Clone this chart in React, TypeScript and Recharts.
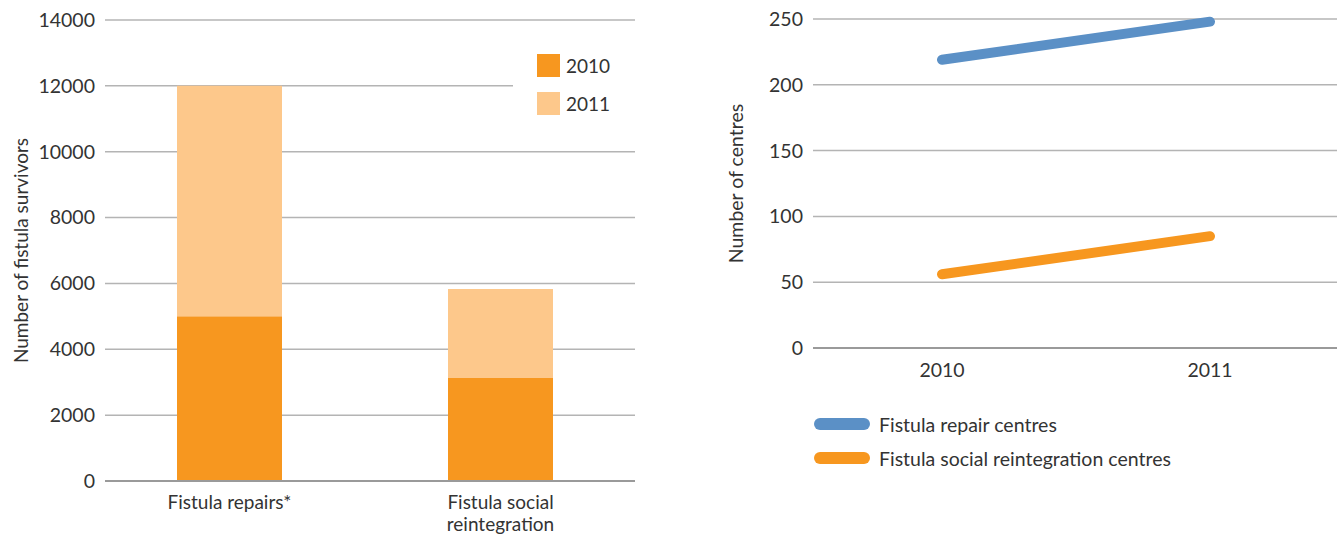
import React from 'react';
import { BarChart, Bar, XAxis, YAxis, CartesianGrid, Legend, LineChart, Line, Text } from 'recharts';

const barCategories = ['Fistula repairs*', 'Fistula social reintegration'];
const survivors2010 = [5000, 3130];
const survivors2011Stacked = [7000, 2700];
const survivorTicks = [0, 2000, 4000, 6000, 8000, 10000, 12000, 14000];

const years = ['2010', '2011'];
const repairCentres = [219, 248];
const reintegrationCentres = [56, 85];
const centreTicks = [0, 50, 100, 150, 200, 250];

const barData = barCategories.map((c, i) => ({ category: c, y2010: survivors2010[i], y2011: survivors2011Stacked[i] }));
const lineData = years.map((y, i) => ({ year: y, repair: repairCentres[i], reintegration: reintegrationCentres[i] }));

const FONT = 'Lato, "Open Sans", sans-serif';
const TEXT = '#333333';
const ORANGE = '#f7971f';
const LIGHT = '#fdc88b';
const BLUE = '#5b90c6';
const GRID = '#b4b4b4';
const AXIS = '#9a9a9a';

const CategoryTick = (props: any) => {
  const { x, y, payload } = props;
  return (
    <Text x={x} y={y} width={145} textAnchor="middle" verticalAnchor="start" lineHeight={22}
      fontFamily={FONT} fontSize={19} fill={TEXT}>
      {payload.value}
    </Text>
  );
};

const rotatedLabel = (text: string, dx: number, size: number) => (props: any) => {
  const vb = props.viewBox || {};
  const cx = vb.x + dx;
  const cy = vb.y + vb.height / 2;
  return (
    <text x={cx} y={cy} textAnchor="middle" dominantBaseline="central" transform={`rotate(-90 ${cx} ${cy})`}
      fontFamily={FONT} fontSize={size} fill={TEXT}>
      {text}
    </text>
  );
};

const BarLegend = (props: any) => {
  const payload = props.payload || [];
  return (
    <div style={{ background: '#fff', paddingLeft: 24, paddingTop: 10, paddingBottom: 10 }}>
      {payload.map((p: any, i: number) => (
        <div key={i} style={{ display: 'flex', alignItems: 'center', height: 23, marginBottom: i === 0 ? 15 : 0 }}>
          <div style={{ width: 23, height: 23, background: p.color }} />
          <span style={{ marginLeft: 6, fontFamily: FONT, fontSize: 19, color: TEXT }}>{p.value}</span>
        </div>
      ))}
    </div>
  );
};

const LineLegend = (props: any) => {
  const payload = props.payload || [];
  return (
    <div>
      {payload.map((p: any, i: number) => (
        <div key={i} style={{ display: 'flex', alignItems: 'center', height: 24, marginBottom: i === 0 ? 10 : 0 }}>
          <svg width={56} height={12} style={{ display: 'block' }}>
            <line x1={6} y1={6} x2={50} y2={6} stroke={p.color} strokeWidth={12} strokeLinecap="round" />
          </svg>
          <span style={{ marginLeft: 9, fontFamily: FONT, fontSize: 19.5, color: TEXT }}>{p.value}</span>
        </div>
      ))}
    </div>
  );
};

export default function App() {
  return (
    <div style={{ position: 'absolute', left: 0, top: 0, width: 1337, height: 535, background: '#fff' }}>
      <div style={{ position: 'absolute', left: 0, top: 0 }}>
        <BarChart width={640} height={535} data={barData} margin={{ top: 20, right: 5, left: 0, bottom: 0 }} barSize={105}>
          <CartesianGrid vertical={false} stroke={GRID} strokeWidth={1.5} />
          <XAxis dataKey="category" tickLine={false} axisLine={{ stroke: AXIS, strokeWidth: 2 }} height={54}
            tick={<CategoryTick />} tickMargin={9} interval={0} padding={{ left: -11, right: -1 }} />
          <YAxis width={105} domain={[0, 14000]} ticks={survivorTicks} interval={0} tickLine={false} axisLine={false}
            tick={{ fill: TEXT, fontSize: 19.5, fontFamily: FONT }} tickMargin={4}
            label={{ content: rotatedLabel('Number of fistula survivors', 20, 19) }} />
          <Legend layout="vertical" verticalAlign="middle" align="center" content={<BarLegend />}
            wrapperStyle={{ left: 513, top: 44, width: 122 }} />
          <Bar dataKey="y2010" name="2010" stackId="a" fill={ORANGE} isAnimationActive={false} />
          <Bar dataKey="y2011" name="2011" stackId="a" fill={LIGHT} isAnimationActive={false} />
        </BarChart>
      </div>
      <div style={{ position: 'absolute', left: 700, top: 0 }}>
        <LineChart width={637} height={535} data={lineData} margin={{ top: 19, right: 0, left: 0, bottom: 140 }}>
          <CartesianGrid vertical={false} stroke={GRID} strokeWidth={1.5} />
          <XAxis dataKey="year" tickLine={false} axisLine={{ stroke: AXIS, strokeWidth: 2 }} height={47}
            tick={{ fill: TEXT, fontSize: 19.5, fontFamily: FONT }} tickMargin={9} padding={{ left: 129, right: 127 }} />
          <YAxis width={113} domain={[0, 250]} ticks={centreTicks} interval={0} tickLine={false} axisLine={false}
            tick={{ fill: TEXT, fontSize: 19.5, fontFamily: FONT }} tickMargin={4}
            label={{ content: rotatedLabel('Number of centres', 35, 19.5) }} />
          <Legend layout="vertical" verticalAlign="middle" align="center" content={<LineLegend />}
            wrapperStyle={{ left: 114, top: 412, width: 440 }} />
          <Line dataKey="repair" name="Fistula repair centres" stroke={BLUE} strokeWidth={10} strokeLinecap="round"
            dot={false} activeDot={false} isAnimationActive={false} />
          <Line dataKey="reintegration" name="Fistula social reintegration centres" stroke={ORANGE} strokeWidth={10}
            strokeLinecap="round" dot={false} activeDot={false} isAnimationActive={false} />
        </LineChart>
      </div>
    </div>
  );
}
